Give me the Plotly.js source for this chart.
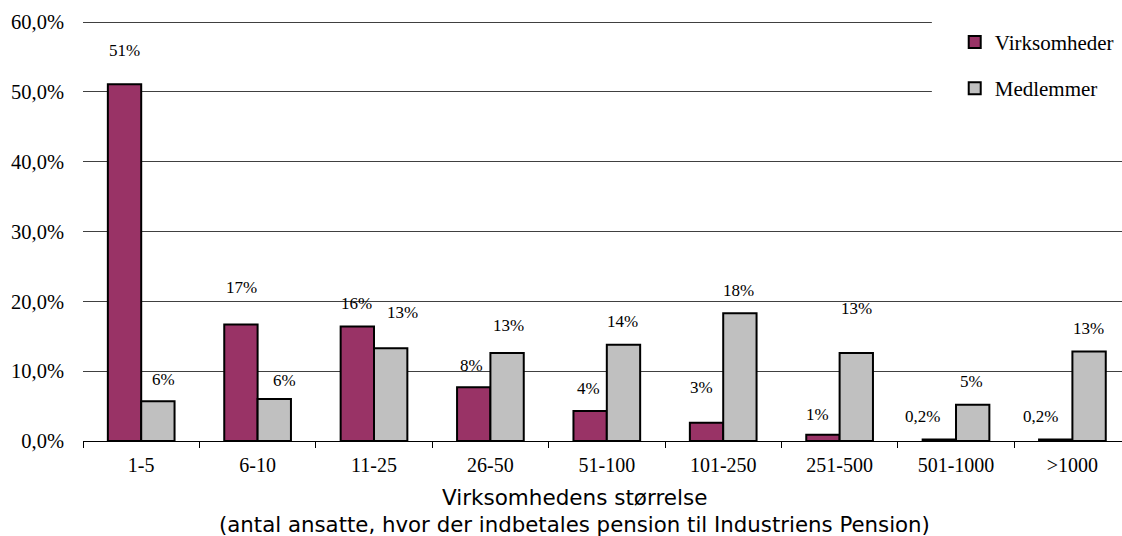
<!DOCTYPE html>
<html>
<head>
<meta charset="utf-8">
<script src="https://cdn.plot.ly/plotly-3.0.1.min.js"></script>
<style>html,body{margin:0;padding:0;background:#fff;}#chart{width:1122px;height:536px;}</style>
</head>
<body>
<div id="chart"></div>
<script>
// Data
const categories = ['1-5', '6-10', '11-25', '26-50', '51-100', '101-250', '251-500', '501-1000', '>1000'];
const virksomheder = [51.1, 16.7, 16.4, 7.7, 4.3, 2.6, 0.9, 0.2, 0.2];
const medlemmer = [5.7, 6.0, 13.3, 12.6, 13.8, 18.3, 12.6, 5.2, 12.8];
const virksomhederLabels = ['51%', '17%', '16%', '8%', '4%', '3%', '1%', '0,2%', '0,2%'];
const medlemmerLabels = ['6%', '6%', '13%', '13%', '14%', '18%', '13%', '5%', '13%'];
const yTicks = [0, 10, 20, 30, 40, 50, 60];
const yTickText = yTicks.map(v => v.toFixed(1).replace('.', ',') + '%');

// Label placement offsets (pixels) relative to the top of each bar
const vDx = [0, 1, -1, -2, -2, -5, -5, -17, -15];
const vDy = [34, 37, 23, 22, 22, 35, 20, 23, 23];
const mDx = [6, 10, 12, 1, -1, -1, 0, -1, -1];
const mDy = [22, 19, 36, 28, 23, 23, 45, 23, 23];

const serif = 'Liberation Serif, Times New Roman, serif';
const sans = 'DejaVu Sans, Verdana, sans-serif';
const barHalf = 16.7;

const traces = [
  {
    type: 'bar', name: 'Virksomheder', x: categories, y: virksomheder,
    legendgroup: 'a',
    marker: {color: '#993366', line: {color: '#000000', width: 2}},
    hoverinfo: 'skip'
  },
  {
    type: 'bar', name: 'Medlemmer', x: categories, y: medlemmer,
    legendgroup: 'b',
    marker: {color: '#C0C0C0', line: {color: '#000000', width: 2}},
    hoverinfo: 'skip'
  }
];

const annotations = [];
categories.forEach((c, i) => {
  annotations.push({
    x: c, y: virksomheder[i], xref: 'x', yref: 'y', text: virksomhederLabels[i],
    showarrow: false, xanchor: 'center', yanchor: 'middle',
    xshift: -barHalf + vDx[i], yshift: vDy[i],
    font: {family: serif, size: 17, color: '#000'}
  });
  annotations.push({
    x: c, y: medlemmer[i], xref: 'x', yref: 'y', text: medlemmerLabels[i],
    showarrow: false, xanchor: 'center', yanchor: 'middle',
    xshift: barHalf + mDx[i], yshift: mDy[i],
    font: {family: serif, size: 17, color: '#000'}
  });
});
annotations.push({
  xref: 'paper', yref: 'paper', x: 0.4735, y: 0, yshift: -56,
  xanchor: 'center', yanchor: 'middle', showarrow: false,
  text: 'Virksomhedens størrelse',
  font: {family: sans, size: 21.5, color: '#000'}
});
annotations.push({
  xref: 'paper', yref: 'paper', x: 0.4735, y: 0, yshift: -83,
  xanchor: 'center', yanchor: 'middle', showarrow: false,
  text: '(antal ansatte, hvor der indbetales pension til Industriens Pension)',
  font: {family: sans, size: 21.3, color: '#000'}
});

const layout = {
  width: 1122, height: 536,
  margin: {l: 83, r: 0, t: 21, b: 95, pad: 0},
  paper_bgcolor: '#ffffff', plot_bgcolor: '#ffffff',
  separators: ',.',
  barmode: 'group', bargap: 0.427, bargroupgap: 0,
  showlegend: true,
  legend: {
    x: 0.839, y: 0.998, xanchor: 'left', yanchor: 'top',
    bgcolor: 'rgba(0,0,0,0)', borderwidth: 0,
    traceorder: 'grouped', tracegroupgap: 16,
    font: {family: serif, size: 21, color: '#000'}
  },
  xaxis: {
    type: 'category', categoryorder: 'array', categoryarray: categories,
    range: [-0.5, 8.426], fixedrange: true,
    showline: true, linecolor: '#000', linewidth: 1,
    ticks: 'outside', tickson: 'boundaries', ticklen: 6, tickcolor: '#000', tickwidth: 1,
    ticklabelstandoff: 6,
    showgrid: false, zeroline: false,
    tickfont: {family: serif, size: 20, color: '#000'}
  },
  yaxis: {
    range: [0, 60.15], fixedrange: true,
    tickmode: 'array', tickvals: yTicks, ticktext: yTickText,
    ticks: '', ticklabelstandoff: 18,
    showgrid: true, gridcolor: '#404040', gridwidth: 1,
    zeroline: false, showline: false,
    tickfont: {family: serif, size: 20.5, color: '#000'}
  },
  shapes: [{
    type: 'rect', xref: 'paper', yref: 'paper', layer: 'above',
    x0: 0.817, x1: 1.0, y0: 0.8, y1: 1.05,
    fillcolor: '#ffffff', line: {width: 0}
  }],
  annotations: annotations
};

Plotly.newPlot('chart', traces, layout, {staticPlot: true, displayModeBar: false});
</script>
</body>
</html>
